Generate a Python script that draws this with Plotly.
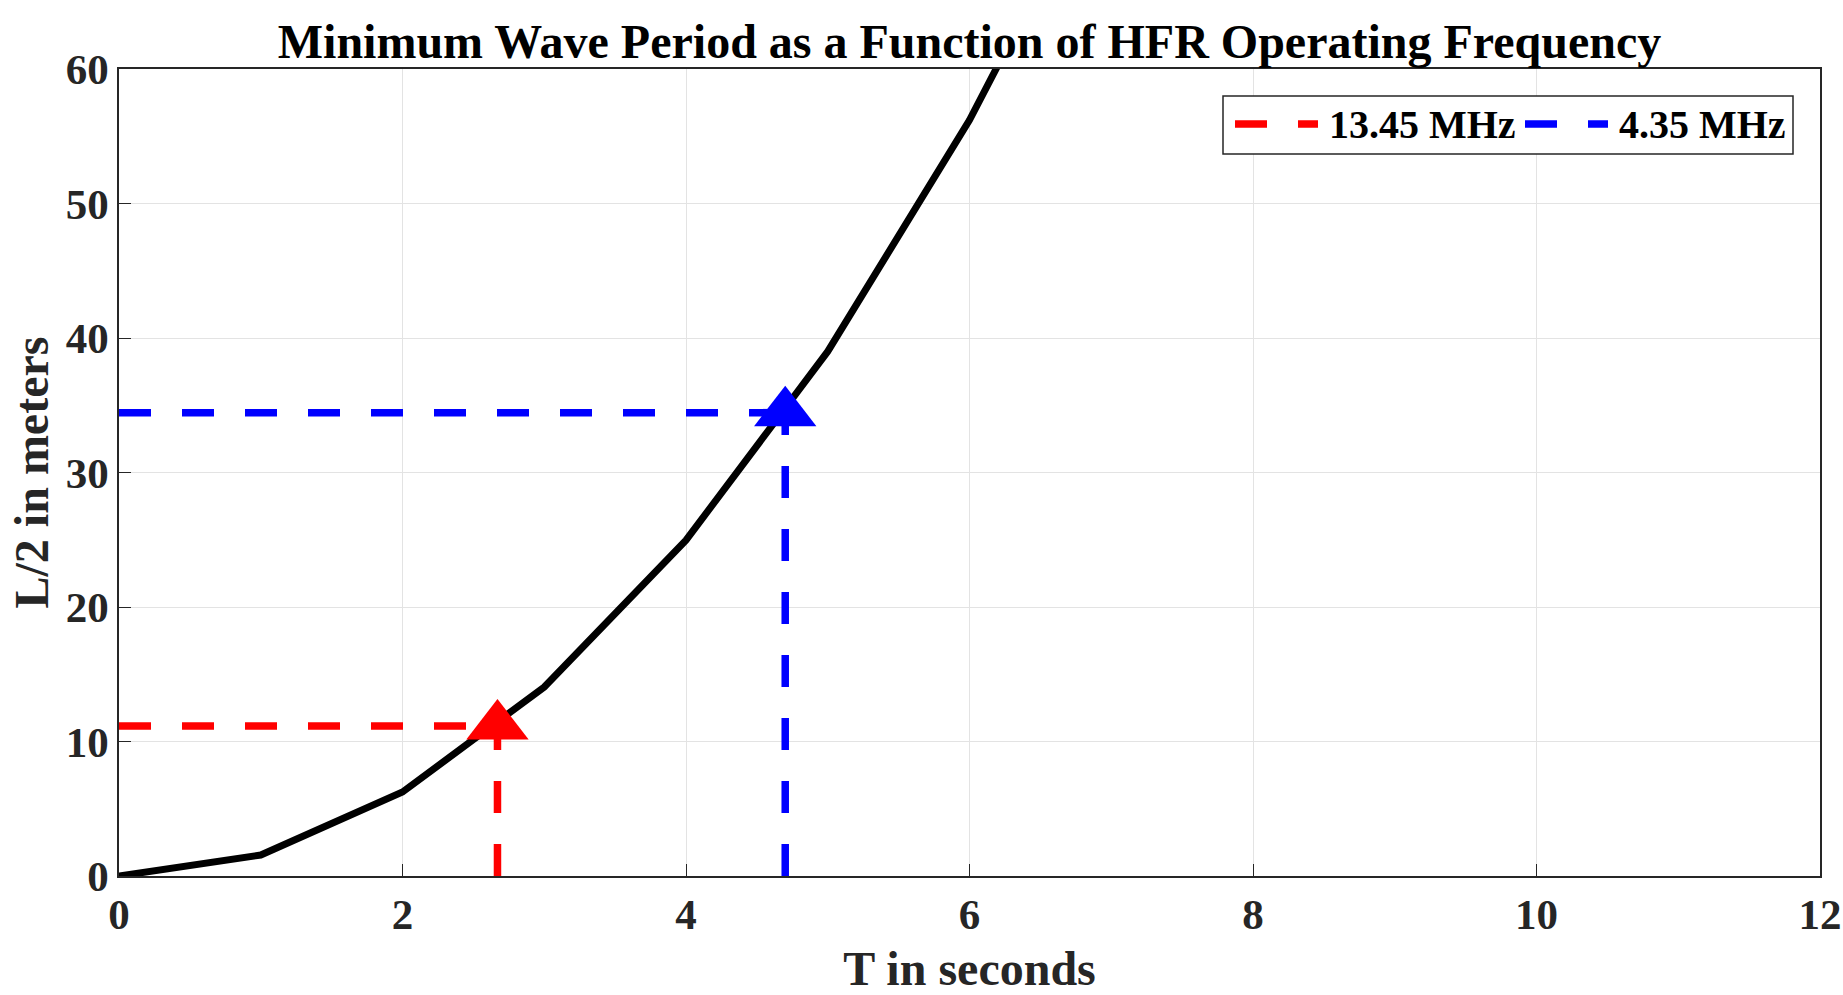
import plotly.graph_objects as go

# Curve: L/2 (m) vs wave period T (s)
T_values = [0, 1, 2, 3, 4, 5, 6, 7]
half_L_values = [0, 1.56, 6.24, 14.05, 24.97, 39.0, 56.2, 76.5]

# Operating-frequency markers
freq_labels = ["13.45 MHz", "4.35 MHz"]
freq_T = [2.67, 4.70]
freq_halfL = [11.15, 34.45]
freq_colors = ["#ff0000", "#0000ff"]

x_ticks = [0, 2, 4, 6, 8, 10, 12]
y_ticks = [0, 10, 20, 30, 40, 50, 60]

FONT = "Liberation Serif"
W, H = 1843, 995
L, R, TOP, B = 119, 23, 69, 119
PW, PH = W - L - R, H - TOP - B          # plot-area size in px
DASH = "32px,31px"


def px_x(p):   # pixel offset from plot-area left -> paper fraction
    return p / PW


def px_y(p):   # pixel offset from plot-area top -> paper fraction
    return 1 - p / PH


fig = go.Figure()

fig.add_trace(go.Scatter(
    x=T_values, y=half_L_values, mode="lines",
    line=dict(color="black", width=7),
    showlegend=False, hoverinfo="skip"))

for lab, t, h, c in zip(freq_labels, freq_T, freq_halfL, freq_colors):
    # horizontal guide from the y axis
    fig.add_trace(go.Scatter(
        x=[0, t], y=[h, h], mode="lines",
        line=dict(color=c, width=7.5, dash=DASH), showlegend=False))
    # vertical guide from the x axis
    fig.add_trace(go.Scatter(
        x=[t, t], y=[0, h], mode="lines",
        line=dict(color=c, width=7.5, dash=DASH), showlegend=False))
    fig.add_trace(go.Scatter(
        x=[t], y=[h], mode="markers",
        marker=dict(symbol="triangle-up", size=54, color=c, line=dict(width=0)),
        showlegend=False, cliponaxis=False))

# Legend box (drawn manually to reproduce the long dashed keys)
shapes = [dict(type="rect", xref="paper", yref="paper",
               x0=px_x(1104), x1=px_x(1674), y0=px_y(85), y1=px_y(27),
               line=dict(color="#262626", width=1.5), fillcolor="white", layer="above")]
annotations = []
key_starts = [1116, 1406]
text_starts = [1208, 1498]
key_y = px_y(55)
for lab, c, ks, ts in zip(freq_labels, freq_colors, key_starts, text_starts):
    shapes.append(dict(type="line", xref="paper", yref="paper",
                       x0=px_x(ks), x1=px_x(ks + 83), y0=key_y, y1=key_y,
                       line=dict(color=c, width=7.5, dash=DASH), layer="above"))
    annotations.append(dict(xref="paper", yref="paper", x=px_x(ts), y=key_y,
                            xanchor="left", yanchor="middle", showarrow=False,
                            text=f"<b>{lab}</b>",
                            font=dict(family=FONT, size=40, color="black")))

# y-axis title
annotations.append(dict(xref="paper", yref="paper", x=px_x(31 - L), y=0.5,
                        xanchor="center", yanchor="middle", showarrow=False,
                        textangle=-90, text="<b>L/2 in meters</b>",
                        font=dict(family=FONT, size=48, color="#262626")))

axis_common = dict(
    showline=True, mirror=True, linecolor="#262626", linewidth=1.5,
    ticks="inside", ticklen=12, tickcolor="#262626", tickwidth=1,
    showgrid=True, gridcolor="#e3e3e3", gridwidth=1, zeroline=False,
    automargin=False, ticklabeloverflow="allow",
    tickfont=dict(family=FONT, size=43, color="#262626"),
)

fig.update_layout(
    width=W, height=H,
    margin=dict(l=L, r=R, t=TOP, b=B),
    paper_bgcolor="white", plot_bgcolor="white",
    showlegend=False,
    shapes=shapes, annotations=annotations,
    title=dict(text="<b>Minimum Wave Period as a Function of HFR Operating Frequency</b>",
               x=(L + PW / 2) / W, xanchor="center",
               yref="container", y=1 - 41 / H, yanchor="middle",
               font=dict(family=FONT, size=48, color="black")),
    xaxis=dict(range=[0, 12], tickvals=x_ticks,
               ticktext=[f"<b>{v}</b>" for v in x_ticks],
               title=dict(text="<b>T in seconds</b>", standoff=18,
                          font=dict(family=FONT, size=48, color="#262626")),
               **axis_common),
    yaxis=dict(range=[0, 60], tickvals=y_ticks,
               ticktext=[f"<b>{v}</b>" for v in y_ticks],
               **axis_common),
)

fig.write_html(
    "out.html",
    config={"displayModeBar": False},
    post_script="document.body.style.margin='0';document.body.style.overflow='hidden';",
)
